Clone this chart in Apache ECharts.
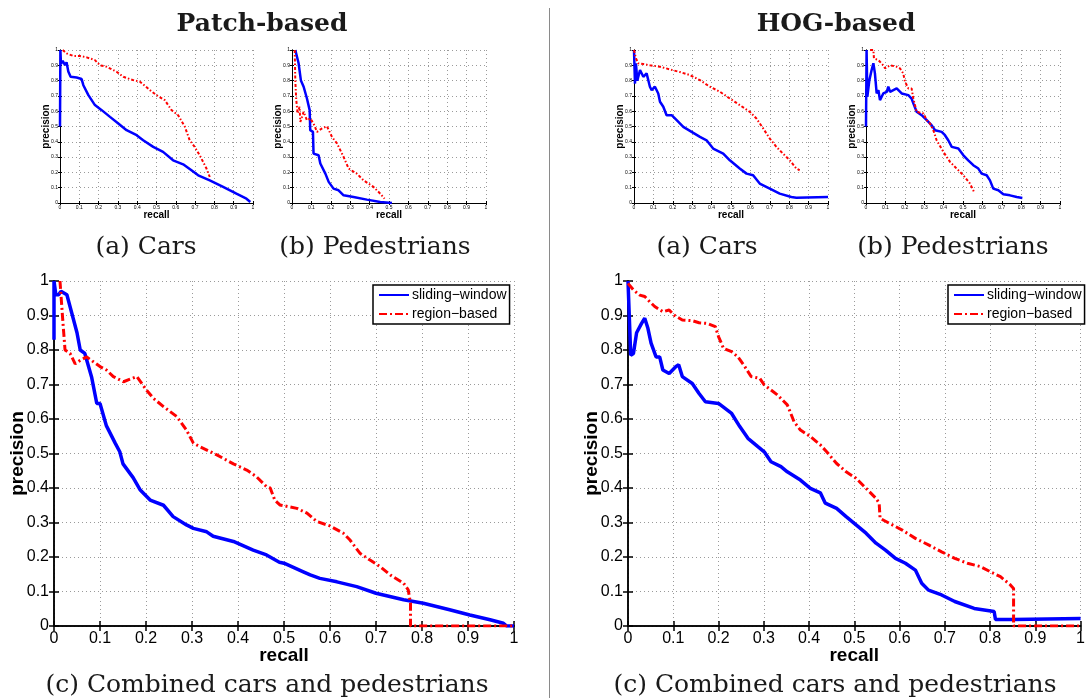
<!DOCTYPE html>
<html>
<head>
<meta charset="utf-8">
<script src="https://cdn.jsdelivr.net/npm/echarts@6/dist/echarts.min.js"></script>
<style>
html, body { margin: 0; padding: 0; background: #fff; }
#chart { width: 1088px; height: 698px; }
</style>
</head>
<body>
<div id="chart"></div>
<script>
// precision / recall curves, each point is [recall, precision]
var patchCarsSliding = [[0,0.5],[0.002,1.0],[0.005,0.91],[0.014,0.93],[0.026,0.90],[0.034,0.92],[0.043,0.86],[0.055,0.825],[0.086,0.82],[0.112,0.81],[0.121,0.77],[0.147,0.705],[0.181,0.64],[0.216,0.607],[0.259,0.563],[0.302,0.52],[0.345,0.476],[0.397,0.443],[0.431,0.41],[0.483,0.367],[0.534,0.334],[0.586,0.279],[0.638,0.253],[0.681,0.214],[0.716,0.181],[0.776,0.148],[0.845,0.105],[0.914,0.061],[0.966,0.028],[0.986,0.007]];
var patchCarsRegion = [[0.014,1.0],[0.034,0.978],[0.069,0.961],[0.103,0.961],[0.138,0.952],[0.181,0.934],[0.207,0.90],[0.241,0.891],[0.293,0.858],[0.328,0.825],[0.379,0.803],[0.414,0.793],[0.466,0.738],[0.5,0.705],[0.543,0.672],[0.578,0.607],[0.612,0.574],[0.647,0.498],[0.672,0.41],[0.698,0.367],[0.724,0.312],[0.759,0.225],[0.776,0.17]];

var patchPedsSliding = [[0.017,1.0],[0.026,1.0],[0.034,0.913],[0.043,0.913],[0.046,0.80],[0.06,0.76],[0.069,0.749],[0.077,0.683],[0.091,0.607],[0.094,0.476],[0.108,0.465],[0.111,0.323],[0.137,0.312],[0.146,0.258],[0.172,0.192],[0.189,0.138],[0.214,0.094],[0.24,0.083],[0.266,0.05],[0.317,0.039],[0.386,0.022],[0.455,0.007],[0.515,0]];
var patchPedsRegion = [[0.014,1.0],[0.017,0.80],[0.022,0.672],[0.029,0.585],[0.039,0.629],[0.043,0.53],[0.06,0.596],[0.077,0.541],[0.094,0.552],[0.111,0.52],[0.129,0.465],[0.154,0.487],[0.18,0.502],[0.206,0.432],[0.232,0.389],[0.266,0.301],[0.292,0.225],[0.334,0.192],[0.369,0.148],[0.42,0.105],[0.455,0.061],[0.477,0.028]];

var hogCarsSliding = [[0,1.0],[0.005,0.78],[0.01,0.913],[0.017,0.80],[0.031,0.869],[0.048,0.825],[0.065,0.847],[0.082,0.76],[0.091,0.738],[0.108,0.76],[0.125,0.716],[0.134,0.662],[0.151,0.629],[0.168,0.574],[0.194,0.574],[0.22,0.541],[0.254,0.498],[0.297,0.465],[0.34,0.432],[0.374,0.41],[0.408,0.356],[0.46,0.323],[0.494,0.279],[0.545,0.225],[0.58,0.192],[0.614,0.181],[0.648,0.127],[0.7,0.094],[0.751,0.061],[0.811,0.039],[0.837,0.035],[1.0,0.039]];
var hogCarsRegion = [[0,1.0],[0.01,0.945],[0.022,0.913],[0.048,0.908],[0.082,0.90],[0.134,0.891],[0.185,0.873],[0.237,0.856],[0.288,0.836],[0.34,0.803],[0.391,0.76],[0.443,0.727],[0.494,0.683],[0.545,0.64],[0.597,0.596],[0.631,0.552],[0.666,0.487],[0.7,0.421],[0.734,0.367],[0.768,0.323],[0.803,0.279],[0.837,0.225],[0.854,0.214]];

var hogPedsSliding = [[0,0.5],[0.003,1.0],[0.007,0.694],[0.017,0.80],[0.029,0.869],[0.038,0.913],[0.046,0.847],[0.055,0.716],[0.064,0.738],[0.072,0.672],[0.089,0.716],[0.107,0.727],[0.115,0.76],[0.124,0.727],[0.158,0.749],[0.184,0.716],[0.218,0.705],[0.235,0.683],[0.244,0.651],[0.261,0.596],[0.287,0.574],[0.313,0.541],[0.338,0.509],[0.356,0.476],[0.39,0.465],[0.407,0.443],[0.424,0.41],[0.442,0.367],[0.476,0.356],[0.502,0.312],[0.527,0.279],[0.553,0.247],[0.579,0.225],[0.596,0.192],[0.622,0.181],[0.639,0.148],[0.656,0.094],[0.682,0.083],[0.708,0.057],[0.742,0.05],[0.777,0.039],[0.806,0.033]];
var hogPedsRegion = [[0.021,1.0],[0.038,1.0],[0.041,0.945],[0.064,0.934],[0.089,0.90],[0.098,0.88],[0.124,0.90],[0.158,0.891],[0.175,0.88],[0.192,0.847],[0.201,0.793],[0.218,0.749],[0.235,0.749],[0.244,0.683],[0.261,0.596],[0.296,0.585],[0.313,0.541],[0.33,0.52],[0.347,0.476],[0.364,0.41],[0.399,0.334],[0.433,0.269],[0.467,0.225],[0.502,0.181],[0.536,0.127],[0.557,0.072]];

var patchAllSliding = [[0,0.83],[0,1.0],[0.004,0.96],[0.01,0.96],[0.015,0.97],[0.028,0.96],[0.038,0.91],[0.05,0.85],[0.057,0.80],[0.067,0.79],[0.082,0.72],[0.093,0.645],[0.1,0.645],[0.114,0.58],[0.133,0.53],[0.143,0.505],[0.15,0.47],[0.172,0.43],[0.187,0.395],[0.209,0.365],[0.238,0.35],[0.259,0.317],[0.288,0.293],[0.303,0.283],[0.332,0.273],[0.346,0.26],[0.39,0.245],[0.433,0.22],[0.462,0.206],[0.49,0.185],[0.5,0.182],[0.542,0.157],[0.557,0.148],[0.578,0.138],[0.615,0.128],[0.658,0.114],[0.7,0.095],[0.76,0.076],[0.803,0.066],[0.86,0.047],[0.904,0.032],[0.948,0.018],[0.977,0.008],[0.984,0],[1,0]];
var patchAllRegion = [[0.013,1.0],[0.019,0.887],[0.024,0.80],[0.035,0.79],[0.046,0.76],[0.057,0.77],[0.071,0.78],[0.1,0.752],[0.114,0.742],[0.129,0.723],[0.151,0.708],[0.18,0.723],[0.201,0.684],[0.216,0.66],[0.238,0.636],[0.267,0.607],[0.288,0.568],[0.303,0.53],[0.317,0.52],[0.354,0.496],[0.39,0.47],[0.419,0.452],[0.44,0.433],[0.462,0.404],[0.47,0.40],[0.48,0.365],[0.491,0.351],[0.528,0.341],[0.55,0.327],[0.571,0.303],[0.6,0.29],[0.629,0.269],[0.643,0.25],[0.665,0.211],[0.687,0.191],[0.709,0.172],[0.731,0.148],[0.76,0.124],[0.77,0.105],[0.775,0.066],[0.775,0],[1,0]];

var hogAllSliding = [[0,1.0],[0.006,0.785],[0.012,0.79],[0.019,0.85],[0.03,0.877],[0.037,0.892],[0.044,0.863],[0.051,0.82],[0.062,0.78],[0.07,0.78],[0.077,0.742],[0.091,0.732],[0.106,0.752],[0.112,0.757],[0.12,0.723],[0.142,0.703],[0.157,0.674],[0.171,0.65],[0.2,0.645],[0.229,0.616],[0.247,0.578],[0.265,0.544],[0.287,0.52],[0.301,0.505],[0.316,0.476],[0.338,0.462],[0.352,0.447],[0.381,0.423],[0.403,0.399],[0.425,0.386],[0.436,0.356],[0.461,0.341],[0.482,0.317],[0.504,0.293],[0.526,0.269],[0.548,0.24],[0.569,0.22],[0.591,0.196],[0.613,0.182],[0.635,0.162],[0.649,0.124],[0.664,0.104],[0.693,0.09],[0.722,0.071],[0.765,0.051],[0.809,0.042],[0.812,0.019],[0.852,0.019],[1,0.022]];
var hogAllRegion = [[0,0.993],[0.012,0.974],[0.026,0.959],[0.037,0.955],[0.048,0.94],[0.059,0.926],[0.077,0.911],[0.091,0.916],[0.102,0.901],[0.12,0.887],[0.142,0.885],[0.157,0.879],[0.175,0.877],[0.193,0.868],[0.2,0.839],[0.211,0.805],[0.229,0.795],[0.243,0.78],[0.258,0.752],[0.272,0.723],[0.291,0.718],[0.301,0.699],[0.316,0.684],[0.33,0.67],[0.352,0.641],[0.367,0.592],[0.381,0.568],[0.403,0.549],[0.425,0.525],[0.439,0.505],[0.461,0.471],[0.482,0.447],[0.504,0.428],[0.526,0.399],[0.548,0.37],[0.555,0.356],[0.557,0.312],[0.577,0.298],[0.606,0.278],[0.635,0.254],[0.664,0.235],[0.693,0.215],[0.722,0.196],[0.75,0.182],[0.779,0.172],[0.801,0.157],[0.823,0.143],[0.845,0.119],[0.852,0.109],[0.852,0],[1,0]];

var seriesNames = ['sliding\u2212window', 'region\u2212based'];
var headings = ['Patch-based', 'HOG-based'];
var captions = ['(a) Cars', '(b) Pedestrians', '(c) Combined cars and pedestrians'];

// big plots first so the legend takes its style from them
var panels = [
  { box: [54, 281, 460, 345], big: true, data: [patchAllSliding, patchAllRegion] },
  { box: [628, 281, 459, 345], big: true, data: [hogAllSliding, hogAllRegion] },
  { box: [60, 50, 193, 153], data: [patchCarsSliding, patchCarsRegion] },
  { box: [292, 50, 194, 153], data: [patchPedsSliding, patchPedsRegion] },
  { box: [634, 50, 194, 153], data: [hogCarsSliding, hogCarsRegion] },
  { box: [866, 50, 194, 153], data: [hogPedsSliding, hogPedsRegion] }
];

var SANS = 'Liberation Sans, Arial, sans-serif';
var SERIF = 'DejaVu Serif, serif';
var BLUE = '#0000ff', RED = '#ff0000';

var grid = [], xAxis = [], yAxis = [], series = [];

panels.forEach(function (p, i) {
  var big = !!p.big;
  var lw = big ? 1.5 : 1;
  var tick = { show: true, inside: true, length: big ? 5 : 2, lineStyle: { color: '#000', width: lw } };
  var line = { show: true, lineStyle: { color: '#000', width: lw } };
  var split = { show: true, lineStyle: { color: '#9a9a9a', type: [1, 3], width: 1 } };
  var lab = { color: '#000', fontFamily: SANS, fontSize: big ? 16 : 5, margin: big ? 5 : 2 };
  var nameStyle = { color: '#000', fontFamily: SANS, fontWeight: 'bold', fontSize: big ? 19 : 10 };

  grid.push({ left: p.box[0], top: p.box[1], width: p.box[2], height: p.box[3] });

  xAxis.push({
    gridIndex: i, type: 'value', min: 0, max: 1, interval: 0.1,
    axisLine: line, axisTick: tick, axisLabel: lab, splitLine: split,
    name: 'recall', nameLocation: 'middle', nameMoveOverlap: false,
    nameGap: big ? 20 : 7, nameTextStyle: nameStyle
  });
  xAxis.push({
    gridIndex: i, type: 'value', position: 'top', min: 0, max: 1, interval: 0.1,
    axisLine: line, axisTick: tick, axisLabel: { show: false }, splitLine: { show: false }
  });
  yAxis.push({
    gridIndex: i, type: 'value', min: 0, max: 1, interval: 0.1,
    axisLine: line, axisTick: tick, axisLabel: lab, splitLine: split,
    name: 'precision', nameLocation: 'middle', nameMoveOverlap: false,
    nameGap: big ? 27 : 9, nameTextStyle: nameStyle
  });
  yAxis.push({
    gridIndex: i, type: 'value', position: 'right', min: 0, max: 1, interval: 0.1,
    axisLine: line, axisTick: tick, axisLabel: { show: false }, splitLine: { show: false }
  });

  series.push({
    name: seriesNames[0], type: 'line', xAxisIndex: 2 * i, yAxisIndex: 2 * i,
    data: p.data[0], symbol: 'none', smooth: false,
    itemStyle: { color: BLUE },
    lineStyle: { color: BLUE, width: big ? 3.5 : 2.5 }
  });
  series.push({
    name: seriesNames[1], type: 'line', xAxisIndex: 2 * i, yAxisIndex: 2 * i,
    data: p.data[1], symbol: 'none', smooth: false,
    itemStyle: { color: RED },
    lineStyle: { color: RED, width: big ? 3 : 2, type: big ? [8, 3, 2, 3] : [3, 2, 1.5, 2] }
  });
});

function legendAt(left) {
  return {
    left: left, top: 285, orient: 'vertical',
    data: seriesNames, padding: [3, 3, 3, 5], itemGap: 5,
    itemWidth: 30, itemHeight: 12,
    itemStyle: { opacity: 0 },
    backgroundColor: '#fff', borderColor: '#000', borderWidth: 1.5, borderRadius: 0,
    textStyle: { color: '#000', fontFamily: SANS, fontSize: 14, padding: [0, 0, 0, -2] },
    selectedMode: false
  };
}

function label(text, x, y, font) {
  return { type: 'text', x: x, y: y, style: { text: text, font: font, fill: '#1a1a1a', align: 'center', verticalAlign: 'middle' } };
}

var capFont = '25px ' + SERIF;
var headFont = 'bold 25px ' + SERIF;

var myChart = echarts.init(document.getElementById('chart'));

var option = {
  animation: false,
  backgroundColor: '#fff',
  grid: grid,
  xAxis: xAxis,
  yAxis: yAxis,
  legend: [legendAt(373), legendAt(948)],
  series: series,
  graphic: [
    { type: 'line', shape: { x1: 549.5, y1: 8, x2: 549.5, y2: 698 }, style: { stroke: '#8a8a8a', lineWidth: 1 } },
    label(headings[0], 262, 24, headFont),
    label(headings[1], 836, 24, headFont),
    label(captions[0], 146, 247, capFont),
    label(captions[1], 375, 247, capFont),
    label(captions[0], 707, 247, capFont),
    label(captions[1], 953, 247, capFont),
    label(captions[2], 267, 685, capFont),
    label(captions[2], 835, 685, capFont)
  ]
};

myChart.setOption(option);
</script>
</body>
</html>
